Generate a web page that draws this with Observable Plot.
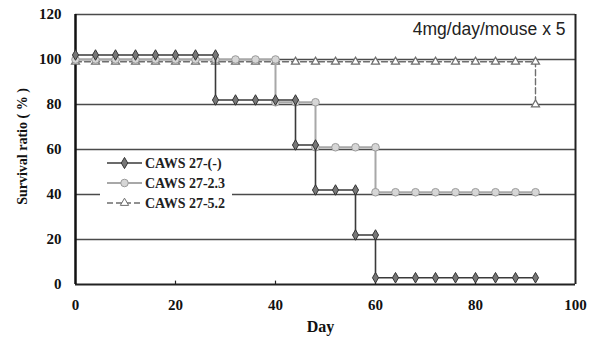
<!DOCTYPE html>
<html>
<head>
<meta charset="utf-8">
<script src="https://cdn.jsdelivr.net/npm/d3@7"></script>
<script src="https://cdn.jsdelivr.net/npm/@observablehq/plot@0.6"></script>
<style>
  html, body { margin: 0; padding: 0; background: #fff; }
  svg { display: block; }
</style>
</head>
<body>
<div id="chart"></div>
<script>
// ---- data ----
const xTicks = [0, 20, 40, 60, 80, 100];
const yTicks = [0, 20, 40, 60, 80, 100, 120];
const gridLevels = [20, 40, 60, 80, 100, 120];

const seriesNames = ["CAWS 27-(-)", "CAWS 27-2.3", "CAWS 27-5.2"];

// CAWS 27-(-)
const ctrlDays  = [0, 4, 8, 12, 16, 20, 24, 28, 28, 32, 36, 40, 44, 44, 48, 48, 52, 56, 56, 60, 60, 64, 68, 72, 76, 80, 84, 88, 92];
const ctrlRatio = [102, 102, 102, 102, 102, 102, 102, 102, 82, 82, 82, 82, 82, 62, 62, 42, 42, 42, 22, 22, 3, 3, 3, 3, 3, 3, 3, 3, 3];

// CAWS 27-2.3
const s23Days  = [0, 4, 8, 12, 16, 20, 24, 28, 32, 36, 40, 40, 44, 48, 48, 52, 56, 60, 60, 64, 68, 72, 76, 80, 84, 88, 92];
const s23Ratio = [100, 100, 100, 100, 100, 100, 100, 100, 100, 100, 100, 81, 81, 81, 61, 61, 61, 61, 41, 41, 41, 41, 41, 41, 41, 41, 41];

// CAWS 27-5.2
const s52Days  = [0, 4, 8, 12, 16, 20, 24, 28, 32, 36, 40, 44, 48, 52, 56, 60, 64, 68, 72, 76, 80, 84, 88, 92, 92];
const s52Ratio = [99, 99, 99, 99, 99, 99, 99, 99, 99, 99, 99, 99, 99, 99, 99, 99, 99, 99, 99, 99, 99, 99, 99, 99, 80];

const annotation = "4mg/day/mouse x 5";
const xTitle = "Day";
const yTitle = "Survival ratio ( % )";

// ---- build ----
const toRows = (days, ratio) => days.map((d, i) => ({day: d, ratio: ratio[i]}));
const ctrl = toRows(ctrlDays, ctrlRatio);
const s23 = toRows(s23Days, s23Ratio);
const s52 = toRows(s52Days, s52Ratio);

const serif = "'Liberation Serif', 'Times New Roman', serif";
const sans = "'Liberation Sans', Arial, sans-serif";

const colCtrl = "#3a3a3a";
const col23 = "#a8a8a8";
const col52 = "#6e6e6e";

const chart = Plot.plot({
  width: 595,
  height: 344,
  marginLeft: 75,
  marginRight: 20,
  marginTop: 14,
  marginBottom: 60,
  x: {domain: [0, 100]},
  y: {domain: [0, 120]},
  style: {fontFamily: serif, background: "#fff", color: "#111"},
  marks: [
    Plot.ruleY(gridLevels, {y: d => d, stroke: "#4a4a4a", strokeWidth: 1.6}),
    Plot.ruleY([0], {stroke: "#222", strokeWidth: 2}),
    Plot.ruleX([0], {stroke: "#111", strokeWidth: 2.5}),
    Plot.ruleX([100], {stroke: "#222", strokeWidth: 2}),
    Plot.ruleX(xTicks.slice(1, -1), {x: d => d, y1: 0, y2: 1.5, stroke: "#222", strokeWidth: 1.2}),
    Plot.axisX({ticks: xTicks, tickSize: 0, tickPadding: 15, fontSize: 15, fontWeight: "bold", label: null}),
    Plot.axisY({ticks: yTicks, tickSize: 0, tickPadding: 14, fontSize: 15, fontWeight: "bold", label: null}),
    // CAWS 27-5.2
    Plot.line(s52, {x: "day", y: "ratio", stroke: col52, strokeWidth: 1.4, strokeDasharray: "6,3"}),
    Plot.dot(s52, {x: "day", y: "ratio", symbol: "triangle", r: 3, stroke: col52, fill: "#fff", strokeWidth: 1.2}),
    // CAWS 27-2.3
    Plot.line(s23, {x: "day", y: "ratio", stroke: col23, strokeWidth: 2}),
    Plot.dot(s23, {x: "day", y: "ratio", symbol: "circle", r: 3.8, stroke: "#9a9a9a", fill: "#d6d6d6", strokeWidth: 1}),
    // CAWS 27-(-)
    Plot.line(ctrl, {x: "day", y: "ratio", stroke: colCtrl, strokeWidth: 1.6}),
    Plot.dot(ctrl, {x: "day", y: "ratio", symbol: "diamond", r: 3.2, stroke: "#333", fill: "#777", strokeWidth: 1}),
    // annotation & titles
    Plot.text([annotation], {frameAnchor: "top-right", dx: -10, dy: 15, lineAnchor: "middle", fontFamily: sans, fontSize: 17.5, fill: "#222"}),
    Plot.text([xTitle], {frameAnchor: "bottom", dx: -5, dy: 42, lineAnchor: "middle", fontSize: 16, fontWeight: "bold", fill: "#111"}),
    Plot.text([yTitle], {frameAnchor: "left", textAnchor: "middle", dx: -53, dy: -3, rotate: -90, lineAnchor: "middle", fontSize: 14, fontWeight: "bold", fill: "#111"})
  ]
});

// ---- legend (drawn onto the same svg) ----
const svg = d3.select(chart);
const lg = svg.append("g").attr("font-family", serif).attr("text-anchor", "start");
lg.append("rect").attr("x", 100).attr("y", 153).attr("width", 132).attr("height", 60).attr("fill", "#fff");
const rowsY = [163, 183, 203];
const legendStyles = [
  {stroke: colCtrl, dash: null, sym: "diamond"},
  {stroke: col23, dash: null, sym: "circle"},
  {stroke: col52, dash: "6,3", sym: "triangle"}
];
seriesNames.forEach((name, i) => {
  const y = rowsY[i];
  const st = legendStyles[i];
  lg.append("line").attr("x1", 107).attr("x2", 142).attr("y1", y).attr("y2", y)
    .attr("stroke", st.stroke).attr("stroke-width", i === 1 ? 2 : 1.5)
    .attr("stroke-dasharray", st.dash);
  let path, fill, stroke;
  if (st.sym === "diamond") { path = d3.symbol(d3.symbolDiamond, 36)(); fill = "#777"; stroke = "#333"; }
  else if (st.sym === "circle") { path = d3.symbol(d3.symbolCircle, 45)(); fill = "#d6d6d6"; stroke = "#9a9a9a"; }
  else { path = d3.symbol(d3.symbolTriangle, 30)(); fill = "#fff"; stroke = col52; }
  lg.append("path").attr("d", path).attr("transform", `translate(124.5,${y})`)
    .attr("fill", fill).attr("stroke", stroke).attr("stroke-width", 1);
  lg.append("text").attr("x", 145).attr("y", y).attr("dy", "0.35em")
    .attr("font-size", 14).attr("font-weight", "bold").attr("fill", "#222").text(name);
});

document.getElementById("chart").appendChild(chart);
</script>
</body>
</html>
